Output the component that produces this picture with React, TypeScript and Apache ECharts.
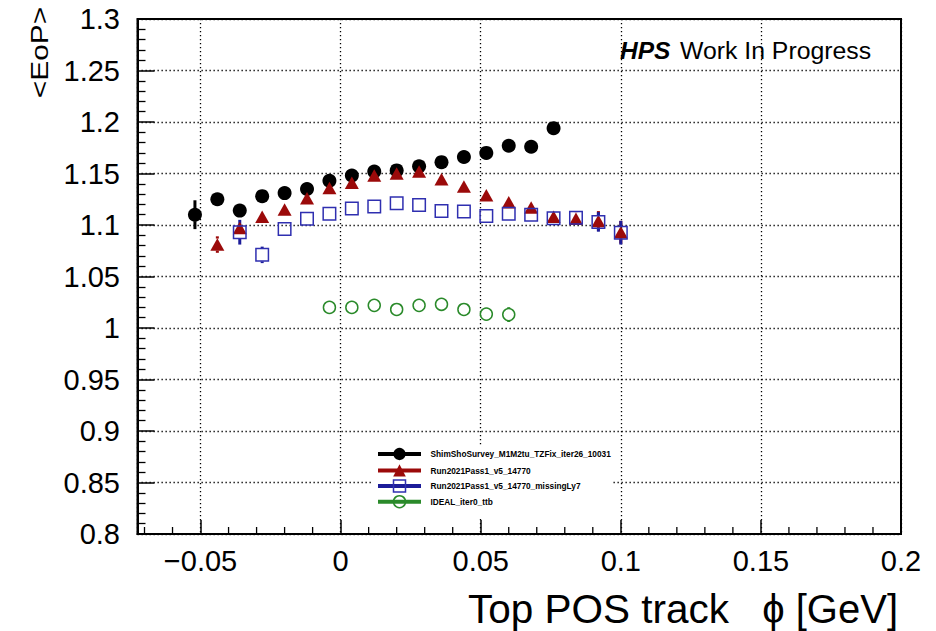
import React, { useEffect, useRef } from 'react';
import * as echarts from 'echarts';

// Bin centres (phi) and mean E/p per bin for each calibration
const shimX = [-0.052, -0.044, -0.036, -0.028, -0.02, -0.012, -0.004, 0.004, 0.012, 0.02, 0.028, 0.036, 0.044, 0.052, 0.06, 0.068, 0.076];
const shimY = [1.110, 1.125, 1.114, 1.128, 1.131, 1.135, 1.143, 1.148, 1.152, 1.153, 1.157, 1.161, 1.166, 1.170, 1.177, 1.176, 1.194];
const shimErr = [0.014, 0.005, 0.004, 0.004, 0.003, 0.003, 0.003, 0.003, 0.003, 0.003, 0.003, 0.003, 0.003, 0.004, 0.004, 0.005, 0.006];

const passX = [-0.044, -0.036, -0.028, -0.02, -0.012, -0.004, 0.004, 0.012, 0.02, 0.028, 0.036, 0.044, 0.052, 0.06, 0.068, 0.076, 0.084, 0.092, 0.1];
const passY = [1.081, 1.097, 1.108, 1.115, 1.126, 1.136, 1.141, 1.148, 1.150, 1.152, 1.1445, 1.1375, 1.129, 1.122, 1.117, 1.108, 1.106, 1.104, 1.093];
const passErr = [0.008, 0.005, 0.004, 0.004, 0.003, 0.003, 0.003, 0.003, 0.003, 0.003, 0.003, 0.003, 0.003, 0.004, 0.004, 0.005, 0.006, 0.0095, 0.011];

const missX = [-0.036, -0.028, -0.02, -0.012, -0.004, 0.004, 0.012, 0.02, 0.028, 0.036, 0.044, 0.052, 0.06, 0.068, 0.076, 0.084, 0.092, 0.1];
const missY = [1.093, 1.071, 1.096, 1.106, 1.111, 1.116, 1.118, 1.121, 1.1195, 1.1135, 1.113, 1.1087, 1.111, 1.110, 1.1065, 1.107, 1.103, 1.0925];
const missErr = [0.012, 0.008, 0.005, 0.004, 0.004, 0.003, 0.003, 0.003, 0.003, 0.003, 0.003, 0.004, 0.004, 0.005, 0.006, 0.006, 0.0095, 0.0115];

const idealX = [-0.004, 0.004, 0.012, 0.02, 0.028, 0.036, 0.044, 0.052, 0.06];
const idealY = [1.020, 1.020, 1.022, 1.018, 1.022, 1.023, 1.018, 1.0135, 1.013];
const idealErr = [0.004, 0.004, 0.004, 0.004, 0.004, 0.005, 0.005, 0.006, 0.0072];

const seriesNames = [
  'ShimShoSurvey_M1M2tu_TZFix_iter26_10031',
  'Run2021Pass1_v5_14770',
  'Run2021Pass1_v5_14770_missingLy7',
  'IDEAL_iter0_ttb',
];

const xMinorTicks = [-0.07, -0.06, -0.04, -0.03, -0.02, -0.01, 0.01, 0.02, 0.03, 0.04, 0.06, 0.07, 0.08, 0.09, 0.11, 0.12, 0.13, 0.14, 0.16, 0.17, 0.18, 0.19];

const X_MIN = -0.0725;
const X_MAX = 0.2;
const Y_MIN = 0.8;
const Y_MAX = 1.3;

const FONT = '"Liberation Sans", Arial, Helvetica, sans-serif';
const BLACK = '#000000';
const RED = '#9b0a0a';
const BLUE = '#2f2fb0';
const BLUE_DARK = '#1c1c99';
const GREEN = '#2a8a2a';

// Vertical error bars, left open where the marker sits
function errorBars(xs: number[], ys: number[], es: number[], color: string, gap: number) {
  return {
    type: 'custom',
    silent: true,
    clip: false,
    data: xs.map((x, i) => [x, ys[i], es[i]]),
    encode: { x: 0, y: 1 },
    renderItem: (_params: any, api: any) => {
      const x = api.value(0);
      const y = api.value(1);
      const e = api.value(2);
      const c = api.coord([x, y]);
      const lo = api.coord([x, y - e]);
      const hi = api.coord([x, y + e]);
      const children: any[] = [];
      if (c[1] - hi[1] > gap) {
        children.push({
          type: 'line',
          shape: { x1: c[0], y1: hi[1], x2: c[0], y2: c[1] - gap },
          style: { stroke: color, lineWidth: 3 },
        });
      }
      if (lo[1] - c[1] > gap) {
        children.push({
          type: 'line',
          shape: { x1: c[0], y1: c[1] + gap, x2: c[0], y2: lo[1] },
          style: { stroke: color, lineWidth: 3 },
        });
      }
      return { type: 'group', children };
    },
  };
}

function legendGraphics() {
  const lineX0 = 378;
  const lineX1 = 421;
  const markX = 399.5;
  const textX = 430.5;
  const rows = [454, 470.5, 486, 501.7];
  const colors = [BLACK, RED, BLUE_DARK, GREEN];
  const els: any[] = [
    {
      type: 'rect',
      z: 50,
      shape: { x: 371, y: 446, width: 242, height: 73 },
      style: { fill: '#ffffff' },
    },
  ];
  seriesNames.forEach((name, i) => {
    const y = rows[i];
    els.push({
      type: 'line',
      z: 51,
      shape: { x1: lineX0, y1: y, x2: lineX1, y2: y },
      style: { stroke: colors[i], lineWidth: 4 },
    });
    if (i === 0) {
      els.push({ type: 'circle', z: 52, shape: { cx: markX, cy: y, r: 6.2 }, style: { fill: BLACK } });
    } else if (i === 1) {
      els.push({
        type: 'polygon',
        z: 52,
        shape: { points: [[markX - 6.3, y + 6], [markX + 6.3, y + 6], [markX, y - 6.3]] },
        style: { fill: RED },
      });
    } else if (i === 2) {
      els.push({ type: 'rect', z: 52, shape: { x: markX - 6, y: y - 6, width: 12, height: 12 }, style: { fill: 'none', stroke: BLUE, lineWidth: 1.5 } });
    } else {
      els.push({ type: 'circle', z: 52, shape: { cx: markX, cy: y, r: 6 }, style: { fill: 'none', stroke: GREEN, lineWidth: 1.5 } });
    }
    els.push({
      type: 'text',
      z: 52,
      x: textX,
      y: y,
      style: {
        text: name,
        fontFamily: FONT,
        fontSize: 8.3,
        fontWeight: 'bold',
        fill: '#000',
        align: 'left',
        verticalAlign: 'middle',
        textAlign: 'left',
        textVerticalAlign: 'middle',
      },
    });
  });
  return els;
}

export default function App() {
  const ref = useRef<HTMLDivElement>(null);

  useEffect(() => {
    if (!ref.current) return;
    const chart = echarts.init(ref.current, undefined, { renderer: 'svg' });

    const option: any = {
      animation: false,
      backgroundColor: '#ffffff',
      grid: {
        left: 137.5,
        right: 35,
        top: 19,
        bottom: 97,
        show: true,
        borderColor: '#000',
        borderWidth: 2,
        backgroundColor: 'transparent',
        outerBoundsMode: 'none',
      },
      xAxis: {
        type: 'value',
        min: X_MIN,
        max: X_MAX,
        splitNumber: 5,
        axisLine: { show: true, onZero: false, lineStyle: { color: '#000', width: 2 } },
        axisTick: { show: true, inside: true, length: 14, lineStyle: { color: '#000', width: 1.5 } },
        minorTick: { show: false },
        axisLabel: {
          show: true,
          showMinLabel: false,
          margin: 12,
          fontSize: 29,
          fontFamily: FONT,
          color: '#000',
          formatter: (v: number) => (Math.abs(v - X_MIN) < 1e-9 ? '' : String(+v.toFixed(4)).replace('-', '\u2212')),
        },
        splitLine: { show: true, lineStyle: { color: '#000', width: 1.3, type: [1.3, 2.7] } },
      },
      yAxis: {
        type: 'value',
        min: Y_MIN,
        max: Y_MAX,
        interval: 0.05,
        axisLine: { show: true, onZero: false, lineStyle: { color: '#000', width: 2 } },
        axisTick: { show: true, inside: true, length: 17, lineStyle: { color: '#000', width: 1.5 } },
        minorTick: { show: true, splitNumber: 5, length: 8, lineStyle: { color: '#000', width: 1.3 } },
        axisLabel: {
          show: true,
          margin: 17.5,
          fontSize: 29,
          fontFamily: FONT,
          color: '#000',
          formatter: (v: number) => String(+v.toFixed(3)),
        },
        splitLine: { show: true, lineStyle: { color: '#000', width: 1.3, type: [1.3, 2.7] } },
      },
      graphic: [
        {
          type: 'text',
          x: 40,
          y: 52.5,
          rotation: Math.PI / 2,
          scaleX: 1.3,
          style: {
            text: '<EoP>',
            fontFamily: FONT,
            fontSize: 23,
            fill: '#000',
            align: 'center',
            verticalAlign: 'middle',
            textAlign: 'center',
            textVerticalAlign: 'middle',
          },
        },
        {
          type: 'text',
          x: 729,
          y: 609,
          style: {
            text: 'Top POS track',
            fontFamily: FONT,
            fontSize: 40.5,
            fill: '#000',
            align: 'right',
            verticalAlign: 'middle',
            textAlign: 'right',
            textVerticalAlign: 'middle',
          },
        },
        {
          type: 'text',
          x: 898,
          y: 609,
          style: {
            text: '\u03d5 [GeV]',
            fontFamily: FONT,
            fontSize: 40,
            fill: '#000',
            align: 'right',
            verticalAlign: 'middle',
            textAlign: 'right',
            textVerticalAlign: 'middle',
          },
        },
        {
          type: 'text',
          x: 620,
          y: 50,
          style: {
            text: 'HPS',
            fontFamily: FONT,
            fontSize: 24.5,
            fontWeight: 'bold',
            fontStyle: 'italic',
            fill: '#000',
            align: 'left',
            verticalAlign: 'middle',
            textAlign: 'left',
            textVerticalAlign: 'middle',
          },
        },
        {
          type: 'text',
          x: 680,
          y: 50,
          style: {
            text: 'Work In Progress',
            fontFamily: FONT,
            fontSize: 24.8,
            fill: '#000',
            align: 'left',
            verticalAlign: 'middle',
            textAlign: 'left',
            textVerticalAlign: 'middle',
          },
        },
        ...legendGraphics(),
      ],
      series: [
        {
          type: 'custom',
          silent: true,
          clip: false,
          data: xMinorTicks.map((v) => [v, Y_MIN]),
          encode: { x: 0, y: 1 },
          renderItem: (_params: any, api: any) => {
            const p = api.coord([api.value(0), api.value(1)]);
            return {
              type: 'line',
              shape: { x1: p[0], y1: p[1], x2: p[0], y2: p[1] - 7 },
              style: { stroke: '#000', lineWidth: 1.3 },
            };
          },
        },
        errorBars(shimX, shimY, shimErr, BLACK, 6.5),
        {
          name: seriesNames[0],
          type: 'scatter',
          symbol: 'circle',
          symbolSize: 14,
          itemStyle: { color: BLACK, opacity: 1 },
          data: shimX.map((x, i) => [x, shimY[i]]),
        },
        errorBars(passX, passY, passErr, RED, 6),
        {
          name: seriesNames[1],
          type: 'scatter',
          symbol: 'triangle',
          symbolSize: [14, 12.5],
          itemStyle: { color: RED, opacity: 1 },
          data: passX.map((x, i) => [x, passY[i]]),
        },
        errorBars(missX, missY, missErr, BLUE_DARK, 6.5),
        {
          name: seriesNames[2],
          type: 'scatter',
          symbol: 'rect',
          symbolSize: 12.5,
          itemStyle: { color: 'rgba(0,0,0,0)', borderColor: BLUE, borderWidth: 1.5, opacity: 1 },
          data: missX.map((x, i) => [x, missY[i]]),
        },
        errorBars(idealX, idealY, idealErr, GREEN, 6),
        {
          name: seriesNames[3],
          type: 'scatter',
          symbol: 'circle',
          symbolSize: 12,
          itemStyle: { color: 'rgba(0,0,0,0)', borderColor: GREEN, borderWidth: 1.5, opacity: 1 },
          data: idealX.map((x, i) => [x, idealY[i]]),
        },
      ],
    };

    chart.setOption(option);
    return () => chart.dispose();
  }, []);

  return (
    <div
      ref={ref}
      style={{ position: 'absolute', left: 0, top: 0, width: 936, height: 631, background: '#fff' }}
    />
  );
}
